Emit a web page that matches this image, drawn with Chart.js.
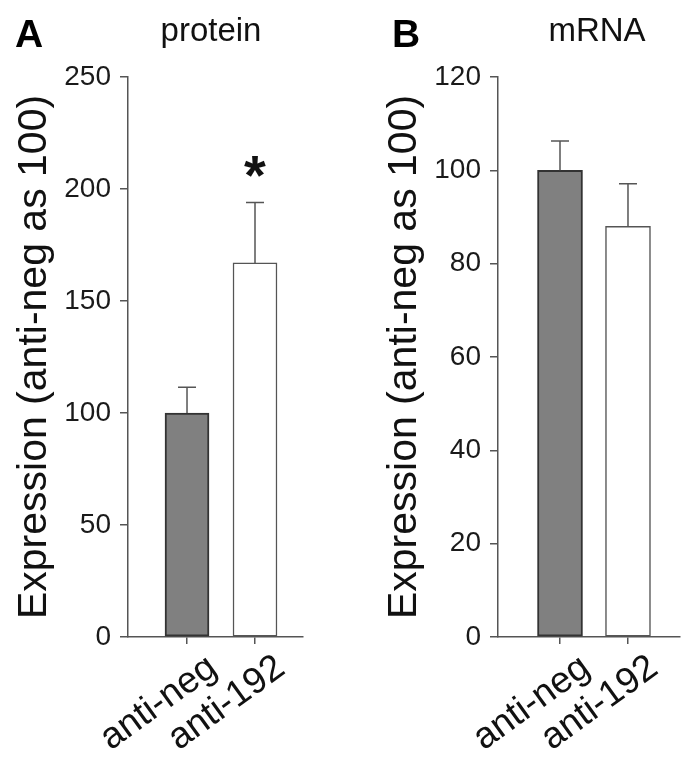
<!DOCTYPE html>
<html>
<head>
<meta charset="utf-8">
<script src="https://cdn.jsdelivr.net/npm/chart.js@4"></script>
<style>
  html, body { margin: 0; padding: 0; background: #fff; }
  .panel { position: absolute; top: 0; height: 762px; }
  #panelA { left: 0; width: 360px; }
  #panelB { left: 370px; width: 330px; }
</style>
</head>
<body>
<div class="panel" id="panelA"><canvas id="proteinChart"></canvas></div>
<div class="panel" id="panelB"><canvas id="mrnaChart"></canvas></div>
<script>
const categories = ['anti-neg', 'anti-192'];
const proteinValues = [100, 167];
const proteinErrors = [11.5, 27];
const proteinMarks = ['', '*'];
const proteinTicks = [0, 50, 100, 150, 200, 250];
const mrnaValues = [100, 88];
const mrnaErrors = [6.3, 9.1];
const mrnaMarks = ['', ''];
const mrnaTicks = [0, 20, 40, 60, 80, 100, 120];

const FONT = "'Liberation Sans', Arial, sans-serif";
const AXIS = '#555';

// error bars (upper only), significance marks, panel letter and title
const annotations = {
    id: 'annotations',
    afterDatasetsDraw(chart, args, opts) {
        const ctx = chart.ctx;
        const meta = chart.getDatasetMeta(0);
        const y = chart.scales.y;
        ctx.save();
        meta.data.forEach((bar, i) => {
            const top = y.getPixelForValue(opts.values[i] + opts.errors[i]);
            ctx.strokeStyle = AXIS;
            ctx.lineWidth = 1.5;
            ctx.beginPath();
            ctx.moveTo(bar.x, bar.y);
            ctx.lineTo(bar.x, top);
            ctx.moveTo(bar.x - 9, top);
            ctx.lineTo(bar.x + 9, top);
            ctx.stroke();
            if (opts.marks[i]) {
                ctx.fillStyle = '#111';
                ctx.font = 'bold 56px ' + FONT;
                ctx.textAlign = 'center';
                ctx.textBaseline = 'alphabetic';
                ctx.fillText(opts.marks[i], bar.x, top - 8);
            }
        });
        ctx.fillStyle = '#000';
        ctx.textBaseline = 'alphabetic';
        ctx.textAlign = 'left';
        ctx.font = 'bold 39px ' + FONT;
        ctx.fillText(opts.letter, opts.letterX, 47);
        ctx.fillStyle = '#111';
        ctx.textAlign = 'center';
        ctx.font = '33px ' + FONT;
        ctx.fillText(opts.title, opts.titleX, 41);
        ctx.restore();
    }
};

function makeChart(canvasId, values, errors, marks, ticks, setup) {
    const ctx = document.getElementById(canvasId).getContext('2d');
    return new Chart(ctx, {
        type: 'bar',
        data: {
            datasets: [{
                data: categories.map((c, i) => ({ x: i + 1, y: values[i] })),
                backgroundColor: ['#808080', '#ffffff'],
                borderColor: ['#333333', '#555555'],
                borderWidth: [2, 1.5],
                borderSkipped: false,
                barThickness: setup.barWidth
            }]
        },
        options: {
            responsive: true,
            maintainAspectRatio: false,
            animation: false,
            layout: { padding: { top: 77, right: setup.padRight, bottom: 0, left: 0 } },
            plugins: {
                legend: { display: false },
                tooltip: { enabled: false },
                annotations: {
                    values: values, errors: errors, marks: marks,
                    letter: setup.letter, letterX: setup.letterX,
                    title: setup.title, titleX: setup.titleX
                }
            },
            scales: {
                x: {
                    type: 'linear',
                    offset: false,
                    min: setup.xMin,
                    max: setup.xMax,
                    afterBuildTicks: (scale) => {
                        scale.ticks = categories.map((c, i) => ({ value: i + 1 }));
                    },
                    afterFit: (scale) => { scale.height = 125; },
                    grid: { offset: false, drawOnChartArea: false, drawTicks: true, tickLength: 7, color: AXIS, lineWidth: 1.5 },
                    border: { display: true, color: AXIS, width: 1.5 },
                    ticks: {
                        autoSkip: false,
                        minRotation: 36,
                        maxRotation: 36,
                        padding: 2,
                        labelOffset: 26,
                        color: '#111',
                        font: { family: FONT, size: 37 },
                        callback: (v) => categories[v - 1] || ''
                    }
                },
                y: {
                    min: ticks[0],
                    max: ticks[ticks.length - 1],
                    afterBuildTicks: (scale) => {
                        scale.ticks = ticks.map(v => ({ value: v }));
                    },
                    afterFit: (scale) => { scale.width = 128; },
                    grid: { drawOnChartArea: false, drawTicks: true, tickLength: 8, color: AXIS, lineWidth: 1.5 },
                    border: { display: true, color: AXIS, width: 1.5 },
                    ticks: {
                        padding: 9,
                        color: '#1a1a1a',
                        font: { family: FONT, size: 28 }
                    },
                    title: {
                        display: true,
                        text: 'Expression (anti-neg as 100)',
                        color: '#111',
                        font: { family: FONT, size: 41 },
                        padding: { top: 10, bottom: 0 }
                    }
                }
            }
        },
        plugins: [annotations]
    });
}

document.addEventListener('DOMContentLoaded', () => {
    makeChart('proteinChart', proteinValues, proteinErrors, proteinMarks, proteinTicks, {
        letter: 'A', letterX: 15, title: 'protein', titleX: 211,
        xMin: 0.132, xMax: 2.706, padRight: 57, barWidth: 44
    });
    makeChart('mrnaChart', mrnaValues, mrnaErrors, mrnaMarks, mrnaTicks, {
        letter: 'B', letterX: 22, title: 'mRNA', titleX: 227,
        xMin: 0.088, xMax: 2.765, padRight: 20, barWidth: 45
    });
});
</script>
</body>
</html>
